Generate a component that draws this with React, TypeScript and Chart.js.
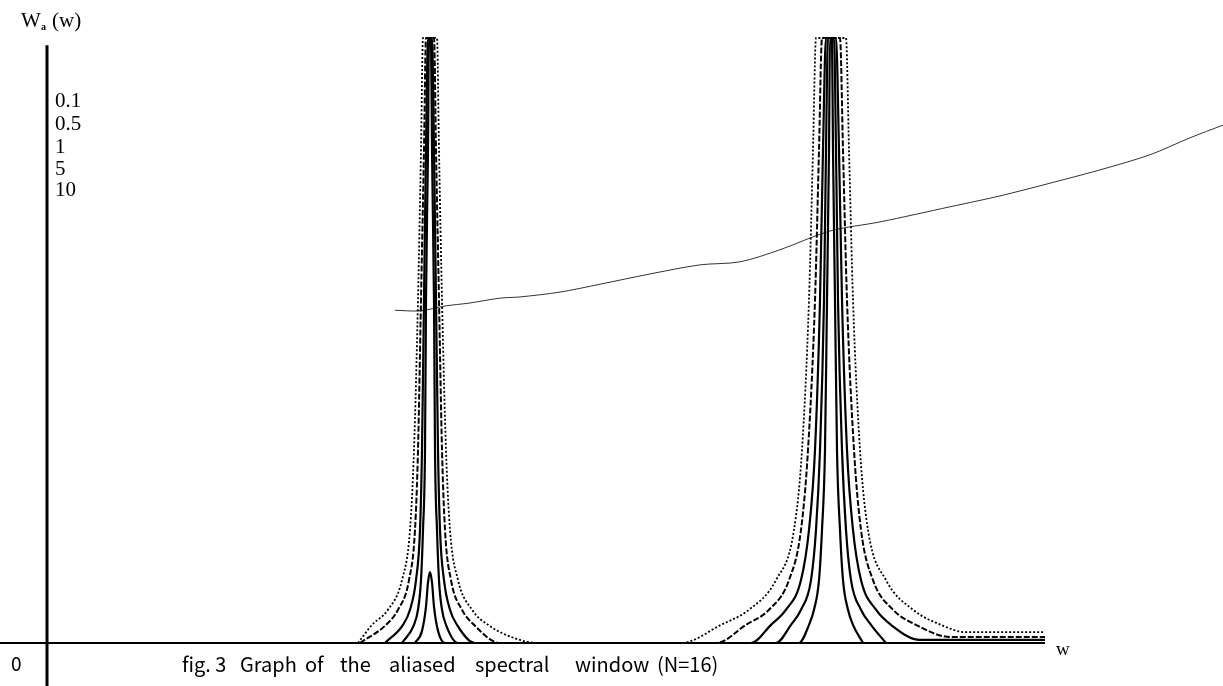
import React, { useEffect, useRef } from "react";
import { Chart, registerables } from "chart.js";

Chart.register(...registerables);

// Axis extent (w units, W units)
const X_MIN = -0.47;
const X_MAX = 11.76;
const Y_MIN = -0.0711;
const Y_MAX = 1.0628;
const AXIS_W_END = 9.98;
const AXIS_Y_TOP = 0.988;

// Parameter labels (curves, widest to narrowest)
const paramLabels = ["0.1", "0.5", "1", "5", "10"];

// Left peak of each curve [w, W]
const leftPeakA = [[3.11, 0], [3.25, 0.03], [3.41, 0.055], [3.55, 0.104], [3.63, 0.187], [3.67, 0.319], [3.71, 0.567], [3.74, 0.815], [3.76, 1.0], [3.9, 1.0], [3.92, 0.815], [3.95, 0.567], [3.99, 0.319], [4.03, 0.187], [4.11, 0.104], [4.25, 0.055], [4.41, 0.03], [4.73, 0.005], [4.93, 0]];
const leftPeakB = [[3.13, 0], [3.39, 0.03], [3.51, 0.055], [3.62, 0.104], [3.68, 0.187], [3.71, 0.319], [3.74, 0.567], [3.77, 0.815], [3.79, 1.0], [3.87, 1.0], [3.89, 0.815], [3.92, 0.567], [3.95, 0.319], [3.98, 0.187], [4.04, 0.104], [4.15, 0.055], [4.27, 0.03], [4.53, 0]];
const leftPeakC = [[3.38, 0], [3.56, 0.03], [3.63, 0.055], [3.69, 0.104], [3.73, 0.187], [3.75, 0.319], [3.77, 0.567], [3.79, 0.815], [3.81, 1.0], [3.85, 1.0], [3.87, 0.815], [3.89, 0.567], [3.91, 0.319], [3.93, 0.187], [3.97, 0.104], [4.03, 0.055], [4.1, 0.03], [4.28, 0]];
const leftPeakD = [[3.55, 0], [3.67, 0.03], [3.71, 0.055], [3.74, 0.104], [3.76, 0.187], [3.78, 0.319], [3.79, 0.567], [3.81, 0.815], [3.82, 1.0], [3.84, 1.0], [3.85, 0.815], [3.87, 0.567], [3.88, 0.319], [3.9, 0.187], [3.92, 0.104], [3.95, 0.055], [3.99, 0.03], [4.11, 0]];
const leftPeakE = [[3.68, 0], [3.75, 0.02], [3.79, 0.06], [3.81, 0.1], [3.83, 0.117], [3.85, 0.1], [3.87, 0.06], [3.91, 0.02], [3.98, 0]];

// Right peak of each curve [w, W]
const rightPeakA = [[6.34, 0], [6.74, 0.03], [7.02, 0.055], [7.29, 0.104], [7.47, 0.187], [7.55, 0.319], [7.62, 0.567], [7.66, 0.815], [7.69, 1.0], [7.99, 1.0], [8.02, 0.815], [8.06, 0.567], [8.13, 0.319], [8.21, 0.187], [8.39, 0.104], [8.66, 0.055], [8.94, 0.03], [9.18, 0.018], [9.98, 0.018]];
const rightPeakB = [[6.69, 0], [6.99, 0.03], [7.22, 0.055], [7.42, 0.104], [7.54, 0.187], [7.61, 0.319], [7.68, 0.567], [7.72, 0.815], [7.75, 1.0], [7.93, 1.0], [7.96, 0.815], [8.0, 0.567], [8.07, 0.319], [8.14, 0.187], [8.26, 0.104], [8.46, 0.055], [8.69, 0.03], [9.03, 0.01], [9.98, 0.01]];
const rightPeakC = [[7.04, 0], [7.24, 0.03], [7.39, 0.055], [7.54, 0.104], [7.62, 0.187], [7.68, 0.319], [7.73, 0.567], [7.76, 0.815], [7.79, 1.0], [7.89, 1.0], [7.92, 0.815], [7.95, 0.567], [8.0, 0.319], [8.06, 0.187], [8.14, 0.104], [8.29, 0.055], [8.44, 0.03], [8.73, 0.005], [9.98, 0.005]];
const rightPeakD = [[7.29, 0], [7.44, 0.03], [7.54, 0.055], [7.64, 0.104], [7.69, 0.187], [7.73, 0.319], [7.77, 0.567], [7.79, 0.815], [7.81, 1.0], [7.87, 1.0], [7.89, 0.815], [7.91, 0.567], [7.95, 0.319], [7.99, 0.187], [8.04, 0.104], [8.14, 0.055], [8.24, 0.03], [8.39, 0]];
const rightPeakE = [[7.52, 0], [7.62, 0.03], [7.67, 0.055], [7.72, 0.104], [7.75, 0.187], [7.78, 0.319], [7.8, 0.567], [7.82, 0.815], [7.83, 1.0], [7.85, 1.0], [7.86, 0.815], [7.88, 0.567], [7.9, 0.319], [7.93, 0.187], [7.96, 0.104], [8.01, 0.055], [8.06, 0.03], [8.16, 0]];

// Stray thin trace across the figure [w, W]
const strayTrace = [[3.48, 0.55], [3.73, 0.549], [3.98, 0.557], [4.23, 0.562], [4.53, 0.57], [4.73, 0.572], [5.13, 0.58], [5.53, 0.593], [6.03, 0.61], [6.53, 0.625], [6.93, 0.63], [7.33, 0.65], [7.83, 0.681], [8.33, 0.696], [9.03, 0.721], [9.53, 0.739], [10.03, 0.76], [10.53, 0.782], [11.03, 0.807], [11.43, 0.835], [11.76, 0.856]];

// Caption words
const captionWords = ["fig. 3", "Graph", "of", "the", "aliased", "spectral", "window", "(N=16)"];

const toPts = (arr: number[][]) => arr.map(([x, y]) => ({ x, y }));

export default function App() {
  const ref = useRef<HTMLCanvasElement | null>(null);

  useEffect(() => {
    if (!ref.current) return;
    const curves = [
      { pts: [...leftPeakA, ...rightPeakA], dash: [2, 2], width: 1.8 },
      { pts: [...leftPeakB, ...rightPeakB], dash: [6, 2], width: 2 },
      { pts: [...leftPeakC, ...rightPeakC], dash: [], width: 2.2 },
      { pts: [...leftPeakD, ...rightPeakD], dash: [], width: 2.2 },
      { pts: [...leftPeakE, ...rightPeakE], dash: [], width: 2.2 },
    ];

    const textPlugin = {
      id: "figText",
      afterDraw(chart: any) {
        const ctx = chart.ctx;
        ctx.save();
        ctx.fillStyle = "#000";
        ctx.textBaseline = "middle";
        // y label
        ctx.font = '21px "Liberation Serif", "DejaVu Serif", serif';
        ctx.textAlign = "left";
        ctx.fillText("W", 21, 21);
        ctx.font = 'bold 10px "Liberation Serif", serif';
        ctx.fillText("a", 41, 27);
        ctx.font = '21px "Liberation Serif", "DejaVu Serif", serif';
        ctx.fillText("(w)", 52, 21);
        // parameter list
        ctx.font = '21px "Liberation Serif", "DejaVu Serif", serif';
        const ys = [101, 124, 147, 169, 190];
        paramLabels.forEach((t, i) => ctx.fillText(t, 55, ys[i]));
        // origin and w
        ctx.font = '19px "Noto Sans CJK JP", "DejaVu Sans", sans-serif';
        ctx.fillText("0", 11, 664);
        ctx.font = '19px "Liberation Serif", serif';
        ctx.fillText("w", 1056, 650);
        // caption
        ctx.font = '20px "Noto Sans CJK JP", "DejaVu Sans", sans-serif';
        const xs = [182, 240, 305, 340, 389, 475, 575, 657];
        captionWords.forEach((t, i) => ctx.fillText(t, xs[i], 664));
        ctx.restore();
      },
    };

    const chart = new Chart(ref.current, {
      type: "line",
      data: {
        datasets: [
          {
            data: toPts([[X_MIN, 0], [AXIS_W_END, 0]]),
            borderColor: "#000",
            borderWidth: 2,
            pointRadius: 0,
          },
          {
            data: toPts([[0, Y_MIN], [0, AXIS_Y_TOP]]),
            borderColor: "#000",
            borderWidth: 3,
            pointRadius: 0,
          },
          ...curves.map((c) => ({
            data: toPts(c.pts),
            borderColor: "#000",
            borderWidth: c.width,
            borderDash: c.dash,
            pointRadius: 0,
            cubicInterpolationMode: "monotone" as const,
          })),
          {
            data: toPts(strayTrace),
            borderColor: "#333",
            borderWidth: 1,
            pointRadius: 0,
            tension: 0.3,
          },
        ],
      },
      options: {
        animation: false,
        responsive: false,
        devicePixelRatio: 1,
        layout: { padding: 0 },
        plugins: { legend: { display: false }, tooltip: { enabled: false } },
        scales: {
          x: { type: "linear", min: X_MIN, max: X_MAX, display: false },
          y: { type: "linear", min: Y_MIN, max: Y_MAX, display: false },
        },
      },
      plugins: [textPlugin],
    });
    return () => chart.destroy();
  }, []);

  return (
    <div style={{ position: "fixed", left: 0, top: 0, width: 1223, height: 686, background: "#fff" }}>
      <canvas ref={ref} width={1223} height={686} style={{ display: "block" }} />
    </div>
  );
}
